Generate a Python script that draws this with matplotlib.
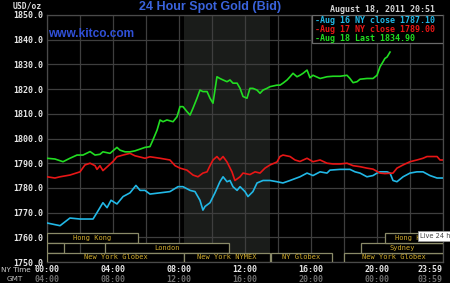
import matplotlib
matplotlib.use("Agg")
import matplotlib.pyplot as plt
from matplotlib.patches import Rectangle

# ---------------- data ----------------
aug16_hours = [0, 0.79, 1.39, 2.0, 2.79, 3.03, 3.39, 3.64, 3.88, 4.24, 4.61, 5.03, 5.39, 5.64, 5.94,
               6.24, 6.85, 7.45, 7.94, 8.24, 8.67, 8.97, 9.27, 9.45, 9.58, 9.88, 10.18, 10.48, 10.67,
               10.91, 11.09, 11.27, 11.52, 11.7, 12.0, 12.18, 12.48, 12.73, 13.09, 13.52, 13.94, 14.3,
               14.73, 15.33, 15.76, 16.12, 16.55, 16.97, 17.15, 17.76, 18.36, 18.67, 18.97, 19.39,
               19.76, 20.0, 20.18, 20.61, 20.79, 20.97, 21.21, 21.58, 22.0, 22.42, 22.79, 23.21, 23.64, 24.0]
aug16_values = [1765.8, 1764.7, 1767.8, 1767.4, 1767.4, 1770.0, 1774.0, 1772.0, 1775.0, 1773.5, 1776.5,
                1778.0, 1781.0, 1779.0, 1779.0, 1777.5, 1778.0, 1778.5, 1780.5, 1780.5, 1779.0, 1778.5,
                1775.0, 1771.0, 1772.5, 1774.0, 1778.0, 1782.5, 1784.5, 1782.5, 1783.0, 1780.5, 1779.0,
                1780.5, 1778.5, 1776.5, 1778.5, 1782.0, 1783.0, 1783.0, 1782.5, 1782.0, 1783.0, 1784.5,
                1786.0, 1785.0, 1786.5, 1786.0, 1787.2, 1787.5, 1787.5, 1786.5, 1786.0, 1784.5, 1785.0,
                1786.0, 1786.5, 1786.5, 1786.0, 1783.0, 1782.5, 1784.5, 1786.0, 1786.5, 1786.5, 1785.0,
                1784.0, 1784.0]

aug17_hours = [0, 0.48, 0.79, 1.39, 2.0, 2.3, 2.61, 2.91, 3.03, 3.21, 3.39, 3.64, 4.0, 4.24, 4.61, 5.03,
               5.33, 5.64, 5.94, 6.24, 6.85, 7.45, 7.76, 8.06, 8.48, 8.85, 9.15, 9.45, 9.7, 9.88, 10.06,
               10.3, 10.48, 10.67, 10.91, 11.21, 11.39, 11.7, 11.88, 12.3, 12.61, 12.91, 13.21, 13.52,
               13.94, 14.12, 14.3, 14.73, 15.03, 15.33, 15.76, 16.12, 16.55, 16.97, 17.33, 17.76, 18.18,
               18.55, 18.97, 19.39, 19.76, 20.18, 20.48, 20.97, 21.21, 21.58, 22.0, 22.42, 22.79, 23.03,
               23.39, 23.64, 23.82, 24.0]
aug17_values = [1784.5, 1784.0, 1784.5, 1785.2, 1786.5, 1789.3, 1790.0, 1789.0, 1787.5, 1789.0, 1787.0,
                1788.5, 1790.7, 1792.6, 1793.3, 1794.0, 1793.0, 1792.5, 1792.0, 1792.6, 1792.0, 1791.3,
                1789.0, 1788.0, 1787.2, 1785.2, 1784.5, 1786.0, 1786.5, 1789.0, 1791.3, 1792.7, 1791.3,
                1792.7, 1790.5, 1786.5, 1783.0, 1784.5, 1786.0, 1785.4, 1786.5, 1786.0, 1788.0, 1789.3,
                1790.5, 1792.7, 1793.3, 1792.7, 1791.3, 1790.7, 1792.0, 1790.6, 1791.3, 1790.0, 1789.7,
                1789.7, 1790.0, 1789.0, 1788.6, 1788.0, 1787.6, 1786.0, 1785.8, 1786.0, 1788.0, 1789.3,
                1790.6, 1791.3, 1792.0, 1792.7, 1792.7, 1792.7, 1791.3, 1791.3]

aug18_hours = [0, 0.48, 0.97, 1.39, 1.82, 2.18, 2.61, 2.91, 3.21, 3.39, 3.82, 4.24, 4.42, 4.73, 5.03,
               5.33, 5.64, 5.94, 6.24, 6.42, 6.67, 6.85, 7.03, 7.27, 7.64, 7.88, 8.06, 8.24, 8.48, 8.67,
               8.85, 9.09, 9.27, 9.45, 9.7, 9.88, 10.06, 10.3, 10.48, 10.67, 10.91, 11.09, 11.27, 11.52,
               11.7, 11.88, 12.12, 12.3, 12.48, 12.73, 12.91, 13.09, 13.33, 13.52, 13.94, 14.12, 14.3,
               14.55, 14.73, 14.91, 15.15, 15.33, 15.52, 15.76, 15.94, 16.12, 16.55, 16.97, 17.33, 17.76,
               18.18, 18.36, 18.55, 18.79, 18.97, 19.39, 19.76, 20.0, 20.18, 20.36, 20.48, 20.61, 20.79]
aug18_values = [1792.0, 1791.7, 1790.6, 1792.0, 1793.3, 1793.3, 1794.7, 1793.3, 1793.6, 1794.6, 1794.0,
                1796.4, 1795.3, 1794.6, 1794.6, 1795.0, 1795.7, 1796.4, 1796.7, 1799.4, 1803.4, 1807.5,
                1806.8, 1807.5, 1806.8, 1808.8, 1812.9, 1812.9, 1810.9, 1809.5, 1812.3, 1816.3, 1819.6,
                1819.0, 1819.0, 1816.3, 1814.3, 1825.0, 1824.3, 1823.7, 1823.0, 1823.7, 1822.4, 1822.4,
                1820.3, 1817.0, 1816.3, 1820.3, 1820.3, 1819.6, 1818.3, 1819.6, 1820.3, 1821.0, 1821.6,
                1821.6, 1822.4, 1823.7, 1825.0, 1826.4, 1825.0, 1825.6, 1826.4, 1827.7, 1824.6, 1825.6,
                1824.3, 1825.0, 1825.2, 1825.2, 1825.6, 1824.3, 1822.6, 1823.0, 1824.0, 1824.3, 1824.3,
                1825.6, 1829.0, 1831.0, 1832.4, 1833.0, 1835.0]

legend_labels = ["-Aug 16 NY close 1787.10", "-Aug 17 NY close 1789.00", "-Aug 18 Last 1834.90"]

tick_hours = [0, 4, 8, 12, 16, 20, 24]
ny_labels = ["00:00", "04:00", "08:00", "12:00", "16:00", "20:00", "23:59"]
gmt_labels = ["04:00", "08:00", "12:00", "16:00", "20:00", "00:00", "03:59"]

# sessions: name, row (0=top), start hour, end hour
session_names = ["Hong Kong", "", "London", "New York Globex", "New York NYMEX", "NY Globex",
                 "New York Globex", "Sydney", "Hong Kong"]
session_rows = [0, 1, 1, 2, 2, 2, 2, 1, 0]
session_start = [0, 0, 3.5, 0, 8.33, 13.6, 18.0, 19.0, 20.5]
session_end = [5.5, 1.0, 11.0, 8.33, 13.5, 17.25, 24.0, 24.0, 24.0]
row_bounds = [(1757.6, 1761.6), (1753.8, 1757.6), (1750.0, 1753.8)]

pit_start, pit_end = 8.33, 13.5

# ---------------- figure ----------------
BLUE = "#3a63dc"
CYAN = "#22b8e6"
RED = "#e81616"
GREEN = "#22dd22"
GOLD = "#d2ac2c"
MONO = "DejaVu Sans Mono"

fig = plt.figure(figsize=(4.5, 2.83), dpi=100, facecolor="black")
ax = fig.add_axes([47 / 450, 21 / 283, 396 / 450, 247 / 283])
ax.set_facecolor("black")
ax.set_xlim(0, 24)
ax.set_ylim(1750, 1850)
ax.axvspan(pit_start, pit_end, color="#1a1c1a", zorder=0, lw=0)

ax.set_xticks(range(0, 25, 2))
ax.set_yticks(range(1750, 1851, 10))
ax.grid(True, color="#3e3e3e", lw=0.9, zorder=1)
ax.set_axisbelow(True)
ax.tick_params(axis="x", length=0, labelbottom=False)
ax.tick_params(axis="y", length=0, pad=2.5, labelcolor="#e6e6e6", labelsize=6)
ax.set_yticklabels([f"{v:.1f}" for v in range(1750, 1851, 10)],
                   fontfamily=MONO, fontweight="bold")
for s in ax.spines.values():
    s.set_color("#4a4a4a")
    s.set_linewidth(0.9)

ax.plot(aug16_hours, aug16_values, color=CYAN, lw=1.2, zorder=3)
ax.plot(aug17_hours, aug17_values, color=RED, lw=1.2, zorder=3)
ax.plot(aug18_hours, aug18_values, color=GREEN, lw=1.2, zorder=4)

# session boxes
for name, r, s0, s1 in zip(session_names, session_rows, session_start, session_end):
    lo, hi = row_bounds[r]
    ax.add_patch(Rectangle((s0, lo), s1 - s0, hi - lo, facecolor="black",
                           edgecolor="#8a8a68", lw=0.9, zorder=5))
    if name:
        ax.text((s0 + s1) / 2, (lo + hi) / 2, name, color=GOLD, fontsize=5,
                fontfamily=MONO, ha="center", va="center", zorder=6, clip_on=True)

# legend box
ax.add_patch(Rectangle((0.669, 0.887), 0.331, 0.113, transform=ax.transAxes,
                       facecolor="black", edgecolor="#6a6a6a", lw=0.9, zorder=7))
for lab, col, yy in zip(legend_labels, [CYAN, RED, GREEN], [0.978, 0.942, 0.905]):
    ax.text(0.677, yy, lab, transform=ax.transAxes, color=col, fontsize=6,
            fontfamily=MONO, fontweight="bold", va="center", ha="left", zorder=8)

# x labels
xt = ax.get_xaxis_transform()
for i, (h, a, b) in enumerate(zip(tick_hours, ny_labels, gmt_labels)):
    ha = "right" if i == len(tick_hours) - 1 else "center"
    ax.text(h, -0.032, a, transform=xt, color="#e6e6e6", fontsize=6, fontfamily=MONO,
            fontweight="bold", ha=ha, va="center", clip_on=False)
    ax.text(h, -0.069, b, transform=xt, color="#6e6e6e", fontsize=6, fontfamily=MONO,
            fontweight="bold", ha=ha, va="center", clip_on=False)

fig.text(1 / 450, 1 - 270 / 283, "NY Time", color="#d0d0d0", fontsize=5.2,
         fontfamily="DejaVu Sans", ha="left", va="center")
fig.text(7 / 450, 1 - 279 / 283, "GMT", color="#c0c0c0", fontsize=5.2,
         fontfamily="DejaVu Sans", ha="left", va="center")

# header texts
fig.text(210 / 450, 1 - 7 / 283, "24 Hour Spot Gold (Bid)", color=BLUE, fontsize=9,
         fontfamily="Liberation Sans", fontweight="bold", ha="center", va="center")
fig.text(48 / 450, 1 - 34 / 283, "www.kitco.com", color="#3050d8", fontsize=8.6,
         fontfamily="Liberation Sans", fontweight="bold", ha="left", va="center")
fig.text(435 / 450, 1 - 10 / 283, "August 18, 2011 20:51", color="#d6d6d6", fontsize=6,
         fontfamily=MONO, fontweight="bold", ha="right", va="center")
fig.text(13 / 450, 1 - 6 / 283, "USD/oz", color="#dcdcdc", fontsize=5.8,
         fontfamily=MONO, fontweight="bold", ha="left", va="center")

# "Live 24 h" tooltip
fig.text(420 / 450, 1 - 236 / 283, "Live 24 h", color="#444444", fontsize=4.8,
         fontfamily="DejaVu Sans", ha="left", va="center", zorder=10,
         bbox=dict(boxstyle="square,pad=0.3", facecolor="white", edgecolor="#999999", lw=0.6))

fig.savefig("out.png", dpi=100, facecolor="black")
